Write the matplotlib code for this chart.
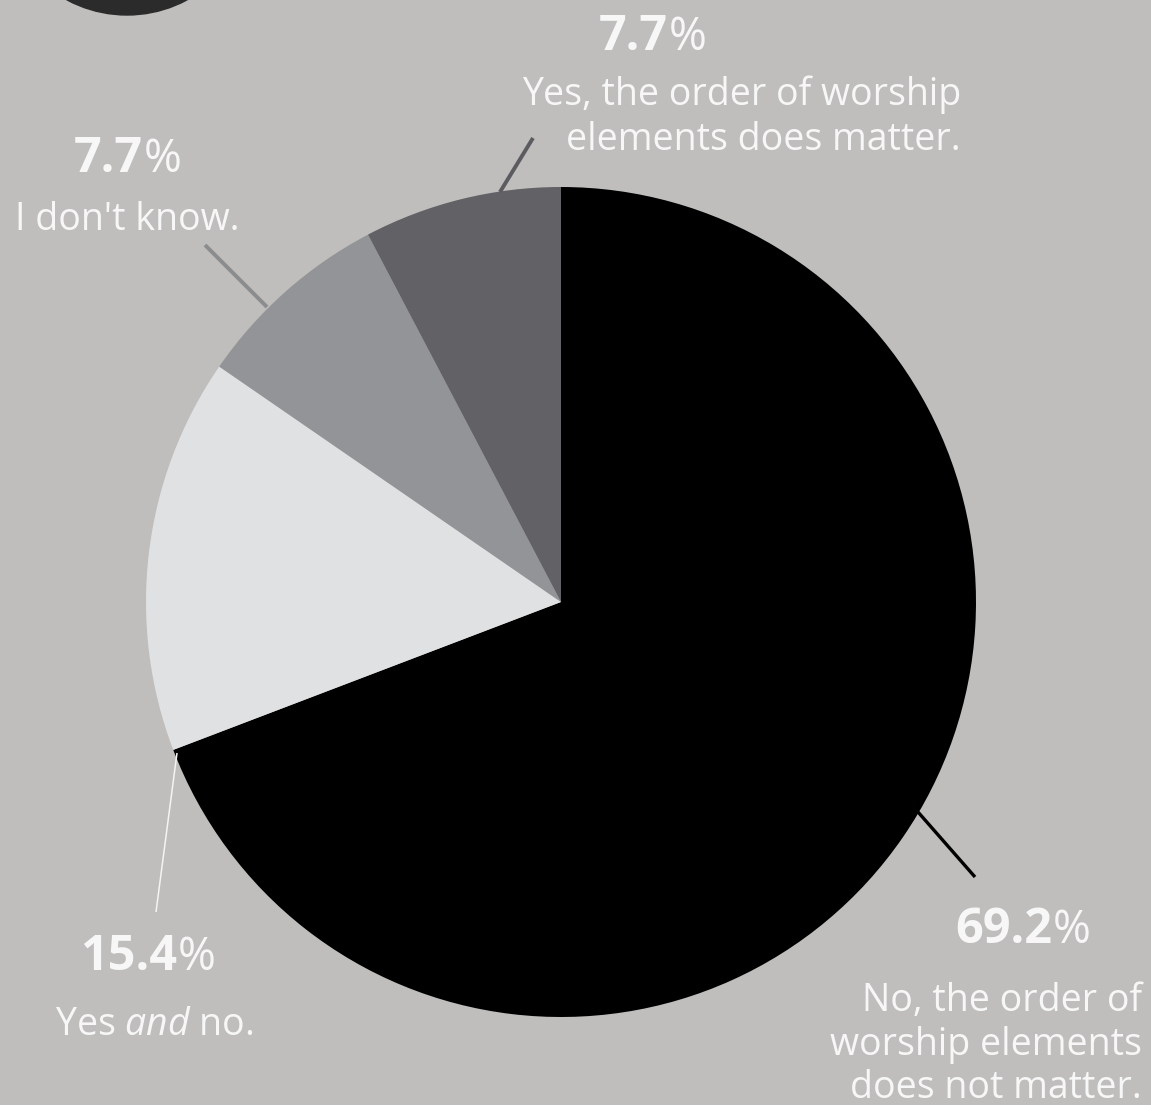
import matplotlib.pyplot as plt
from matplotlib.patches import Circle

# ---------- data ----------
answers = [
    "No, the order of\nworship elements\ndoes not matter.",
    "Yes and no.",
    "I don't know.",
    "Yes, the order of worship\nelements does matter.",
]
shares = [69.2, 15.4, 7.7, 7.7]
share_labels = ["69.2", "15.4", "7.7", "7.7"]

slice_colors = ["#000000", "#e0e1e3", "#939497", "#616166"]
leader_colors = ["#000000", "#f4f4f4", "#8b8c8e", "#5c5c60"]
bg_color = "#bfbebc"
text_color = "#f7f7f7"

W, H = 1151, 1105

plt.rcParams.update({
    "font.family": ["Open Sans", "DejaVu Sans"],
    "mathtext.fontset": "custom",
    "mathtext.rm": "Open Sans",
    "mathtext.it": "Open Sans:italic",
})

fig = plt.figure(figsize=(W / 100, H / 100), dpi=100, facecolor=bg_color)
ax = fig.add_axes([0, 0, 1, 1])
ax.set_facecolor(bg_color)


def py(y):
    # pixel row (from top) -> data y (from bottom)
    return H - y


# ---------- pie ----------
cx, cy, r = 561, py(602), 415
ax.pie(shares, colors=slice_colors, startangle=90, counterclock=False,
       center=(cx, cy), radius=r, wedgeprops=dict(linewidth=0))

# dark badge cut off at the top left
ax.add_patch(Circle((127, py(-112)), 127, color="#2b2b2b", zorder=1))

# ---------- leader lines ----------
leaders = [
    ((918, 812), (975, 877), 2.4),
    ((177, 753), (156, 912), 1.1),
    ((267, 307), (205, 245), 2.8),
    ((500, 192), (533, 138), 2.8),
]
for (p0, p1, lw), col in zip(leaders, leader_colors):
    ax.plot([p0[0], p1[0]], [py(p0[1]), py(p1[1])], color=col, lw=lw,
            solid_capstyle="butt", zorder=3)

# ---------- labels ----------
pct_size = 35
txt_size = 27

# (joint x, baseline y) for each percentage
pct_pos = [(1052, 943), (177, 970), (143, 172), (668, 50)]
for (x, y), val in zip(pct_pos, share_labels):
    ax.text(x, py(y), val, ha="right", va="baseline", fontsize=pct_size,
            fontweight="bold", color=text_color)
    ax.text(x + 1, py(y), "%", ha="left", va="baseline", fontsize=pct_size - 2,
            fontweight="normal", color=text_color)

# answer texts
ax.text(1142, py(1011), "No, the order of", ha="right", va="baseline",
        fontsize=txt_size, color=text_color)
ax.text(1142, py(1055), "worship elements", ha="right", va="baseline",
        fontsize=txt_size, color=text_color)
ax.text(1142, py(1098), "does not matter.", ha="right", va="baseline",
        fontsize=txt_size, color=text_color)

ax.text(154, py(1035), r"Yes $\mathit{and}$ no.", ha="center", va="baseline",
        fontsize=txt_size, color=text_color)

ax.text(127, py(230), answers[2], ha="center", va="baseline",
        fontsize=txt_size, color=text_color)

ax.text(961, py(105), "Yes, the order of worship", ha="right", va="baseline",
        fontsize=txt_size, color=text_color)
ax.text(961, py(150), "elements does matter.", ha="right", va="baseline",
        fontsize=txt_size, color=text_color)

ax.set_xlim(0, W)
ax.set_ylim(0, H)
ax.set_aspect("equal")
ax.axis("off")

fig.savefig("out.png", dpi=100, facecolor=bg_color)
